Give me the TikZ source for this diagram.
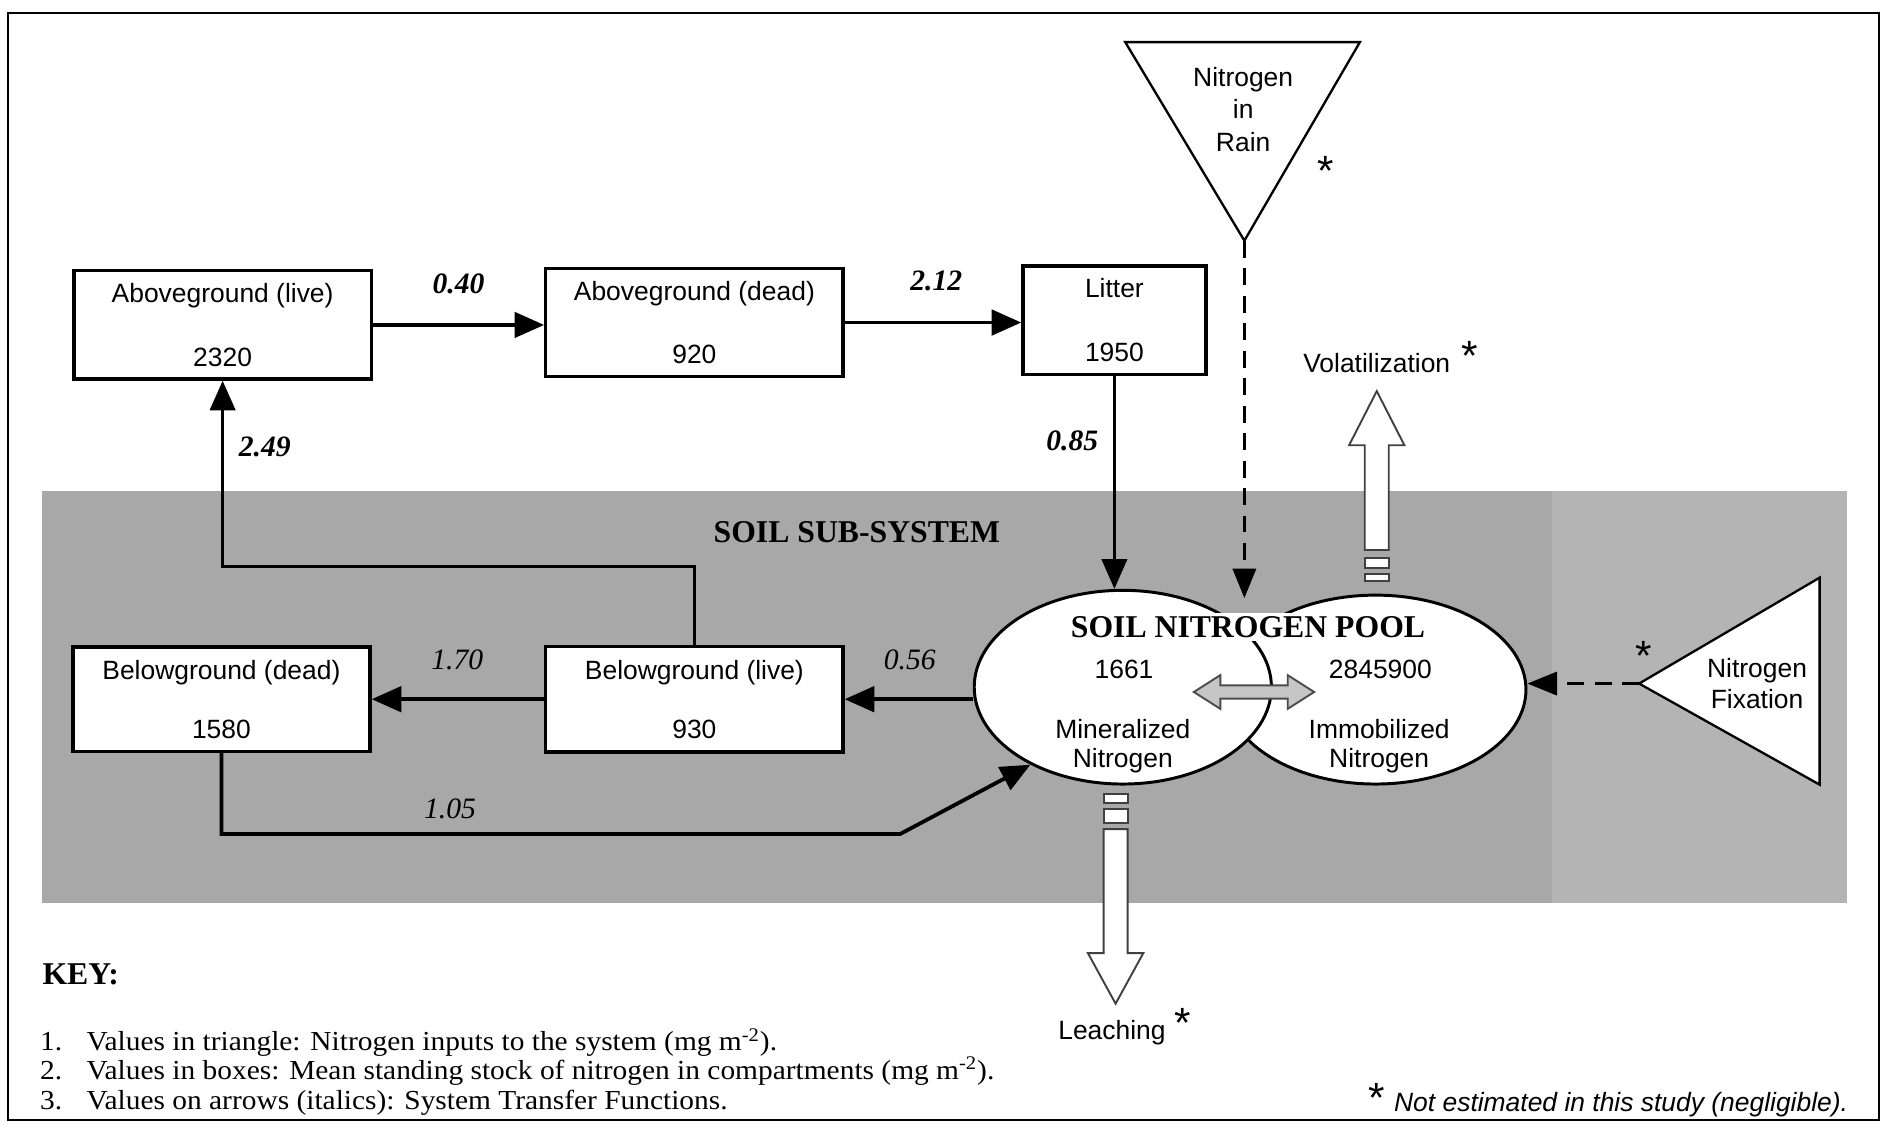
\documentclass[tikz,border=0pt]{standalone}
\usepackage{fontspec}
\setmainfont{Liberation Serif}
\setsansfont{Liberation Sans}
\usetikzlibrary{arrows.meta,shapes,calc}

\definecolor{soilgrey}{RGB}{168,168,168}
\definecolor{soilgreyright}{RGB}{180,180,180}
\definecolor{swapgrey}{RGB}{198,198,198}

\newcommand{\tikzHollowArrow}[4]{
  \draw[hollow] (#1-10,#2) -- (#1-10,#3) -- (#1-23,#3) -- (#1,#4) -- (#1+23,#3) -- (#1+10,#3) -- (#1+10,#2) -- cycle;
}
\newcommand{\tikzStub}[3]{
  \draw[hollow] (#1-10,#2) rectangle (#1+10,#3);
}

\begin{document}
\begin{tikzpicture}[x=0.02cm, y=-0.02cm,
  stock/.style={draw, line width=1.6pt, fill=white, minimum width=4.94cm, minimum height=1.8cm, inner sep=0pt, align=center, font=\sffamily\fontsize{12.5}{15}\selectfont},
  pool/.style={draw, ellipse, line width=1.4pt, fill=white, inner sep=0pt},
  txt/.style={align=center, inner sep=1pt, font=\sffamily\fontsize{12.5}{14}\selectfont},
  rate/.style={font=\bfseries\itshape\fontsize{14}{16}\selectfont},
  soilrate/.style={font=\itshape\fontsize{14}{16}\selectfont},
  flow/.style={-{Triangle[length=14pt,width=12pt]}, line width=1.8pt},
  inflow/.style={-{Triangle[length=14pt,width=11pt]}, line width=1.4pt, dash pattern=on 8pt off 5pt},
  hollow/.style={draw=black!75, line width=0.9pt, fill=white},
  asterisk/.style={inner sep=0pt, font=\sffamily\fontsize{20}{20}\selectfont},
  keyline/.style={anchor=west, inner sep=0pt, font=\fontsize{13}{14}\selectfont\addfontfeatures{FakeStretch=1.07}}]

  \useasboundingbox (0,0) rectangle (1568,937);
  \fill[soilgrey] (35,408) rectangle (1290,750);
  \fill[soilgreyright] (1290,408) rectangle (1535,750);
  \draw[line width=1pt] (7,11) rectangle (1561,931);

  \node[stock] (aglive) at (185,270) {Aboveground (live)\\[15pt]2320};
  \node[stock] (agdead) at (577,268) {Aboveground (dead)\\[15pt]920};
  \node[stock, minimum width=3.04cm] (litter) at (926,266) {Litter\\[15pt]1950};
  \node[stock, minimum height=1.74cm] (bgdead) at (184,581) {Belowground (dead)\\[13pt]1580};
  \node[stock, minimum height=1.76cm] (bglive) at (577,581) {Belowground (live)\\[13pt]930};

  % soil nitrogen pool
  \node[pool, minimum width=5cm, minimum height=3.14cm] (immob) at (1143,573) {};
  \node[pool, minimum width=4.94cm, minimum height=3.22cm] (mineral) at (933,571) {};
  \node[fill=white, inner sep=1.5pt, font=\bfseries\fontsize{15}{15}\selectfont] (pooltitle) at (1037,521) {SOIL NITROGEN POOL};
  \node[txt] (minval) at (934,556) {1661};
  \node[txt] (minlab) at (933,620) {Mineralized\\Nitrogen};
  \node[txt] (imval) at (1147,556) {2845900};
  \node[txt] (imlab) at (1146,620) {Immobilized\\Nitrogen};
  \draw[draw=black!70, line width=0.9pt, fill=swapgrey] (992,575) -- (1014,561) -- (1014,569.5) -- (1070,569.5) -- (1070,561) -- (1092,575)
    -- (1070,589) -- (1070,580.5) -- (1014,580.5) -- (1014,589) -- cycle;

  % inputs
  \coordinate (raintip) at (1034,200);
  \coordinate (rainin) at (1034,497);
  \draw[line width=1.1pt, fill=white] (935,35) -- (1130,35) -- (raintip) -- cycle;
  \node[txt, font=\sffamily\fontsize{12.5}{15.5}\selectfont] (rain) at (1033,91) {Nitrogen\\in\\Rain};
  \node[asterisk] (rainstar) at (1102,142) {*};
  \draw[inflow] (raintip) -- (rainin);

  \coordinate (fixtip) at (1362,568);
  \draw[line width=1.1pt, fill=white] (fixtip) -- (1512,480) -- (1512,652) -- cycle;
  \node[txt, font=\sffamily\fontsize{12.5}{15}\selectfont] (fix) at (1460,568) {Nitrogen\\Fixation};
  \node[asterisk] (fixstar) at (1366,545) {*};
  \draw[inflow] (fixtip) -- (immob.east |- fixtip);

  % transfers
  \draw[flow] (aglive.east) -- (aglive.east -| agdead.west);
  \draw[flow] (agdead.east) -- (agdead.east -| litter.west);
  \draw[flow, line width=1.1pt] (litter.south) -- (litter.south |- mineral.north);
  \draw[flow, line width=1.5pt] (bglive.north) -- ++(0,-65) -| (aglive.south);
  \draw[flow] (bglive.west) -- (bgdead.east);
  \draw[flow] (mineral.west |- bglive.east) -- (bglive.east);
  \coordinate (bend) at (748,693);
  \draw[flow] (bgdead.south) |- (bend) -- (mineral.220);

  \node[rate] (r040) at (381,236) {0.40};
  \node[rate] (r212) at (778,233) {2.12};
  \node[rate] (r249) at (220,371) {2.49};
  \node[rate] (r085) at (891,366) {0.85};
  \node[soilrate] (r170) at (380,548) {1.70};
  \node[soilrate] (r056) at (756,548) {0.56};
  \node[soilrate] (r105) at (374,672) {1.05};

  % losses
  \tikzHollowArrow{1144}{457}{370}{325}
  \tikzStub{1144}{464}{472}
  \tikzStub{1144}{477}{483}
  \node[txt] (volat) at (1144,302) {Volatilization};
  \node[asterisk] (volstar) at (1221,296) {*};

  \tikzStub{927}{660}{667}
  \tikzStub{927}{672}{684}
  \tikzHollowArrow{927}{689}{792}{834}
  \node[txt] (leach) at (924,858) {Leaching};
  \node[asterisk] (leachstar) at (983,850) {*};

  \node[font=\bfseries\fontsize{15}{15}\selectfont] (soilsub) at (712,442) {SOIL SUB-SYSTEM};

  % key
  \node[anchor=west, inner sep=0pt, font=\bfseries\fontsize{15}{15}\selectfont] (key) at (35,810) {KEY:};
  \node[keyline] (key1) at (33,866) {\makebox[22pt][l]{1.}Values in triangle: Nitrogen inputs to the system (mg m\textsuperscript{-2}).};
  \node[keyline] (key2) at (33,890) {\makebox[22pt][l]{2.}Values in boxes: Mean standing stock of nitrogen in compartments (mg m\textsuperscript{-2}).};
  \node[keyline] (key3) at (33,916) {\makebox[22pt][l]{3.}Values on arrows (italics): System Transfer Functions.};
  \node[asterisk] (footstar) at (1144,912) {*};
  \node[anchor=east, inner sep=0pt, font=\sffamily\itshape\fontsize{12.5}{14}\selectfont] (foot) at (1536,918) {Not estimated in this study (negligible).};
\end{tikzpicture}
\end{document}
